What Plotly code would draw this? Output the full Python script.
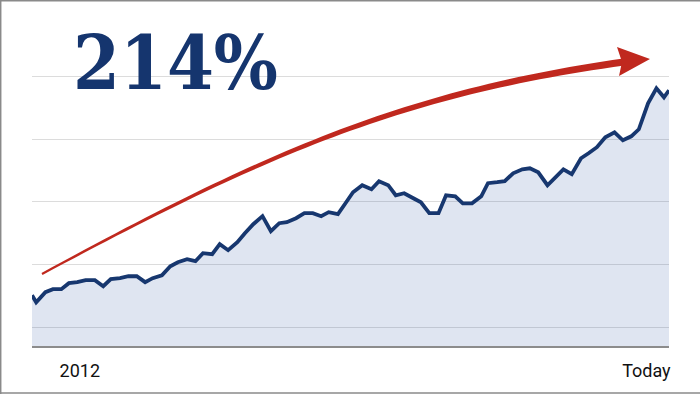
import plotly.graph_objects as go

# ---- data ----
x_months = [0, 0.5, 1.6, 2.5, 3.5, 4.4, 5.4, 6.4, 7.5, 8.5, 9.4, 10.5, 11.5, 12.5, 13.5, 14.4,
            15.5, 16.5, 17.4, 18.5, 19.5, 20.4, 21.5, 22.4, 23.4, 24.5, 25.4, 26.4, 27.5, 28.5,
            29.5, 30.4, 31.5, 32.5, 33.5, 34.5, 35.4, 36.5, 37.4, 38.3, 39.4, 40.5, 41.4, 42.5,
            43.4, 44.4, 45.5, 46.4, 47.4, 48.5, 49.4, 50.5, 51.4, 52.5, 53.6, 54.4, 55.5, 56.4,
            57.4, 58.5, 59.4, 60.4, 61.5, 62.4, 63.4, 64.4, 65.5, 66.4, 67.4, 68.4, 69.5, 70.5,
            71.5, 72.4, 73.5, 74.5, 75.4, 76.0]
values = [75.5, 69.9, 77.9, 80.3, 80.3, 85.1, 85.9, 87.5, 87.5, 82.7, 88.3, 89.1, 90.6, 90.6,
          85.9, 89.1, 91.4, 98.6, 101.8, 104.2, 102.6, 109.0, 108.2, 116.2, 111.4, 117.7, 124.9,
          132.1, 138.5, 126.5, 132.9, 133.7, 136.9, 140.9, 140.9, 138.5, 141.7, 140.1, 148.8,
          157.6, 163.2, 160.0, 166.4, 163.2, 155.2, 156.8, 152.8, 149.6, 140.9, 140.9, 155.2,
          154.4, 148.8, 148.8, 154.4, 164.8, 165.6, 166.4, 172.7, 175.9, 176.7, 173.5, 163.2,
          169.6, 175.9, 172.0, 184.7, 188.7, 193.5, 201.4, 205.4, 199.0, 202.2, 207.8, 228.5,
          240.5, 233.3, 238.9]
tick_positions = [5.7, 73.3]
tick_labels = ["2012", "Today"]
headline = "214%"

# ---- layout geometry ----
W, H = 700, 394
L, R, T, B = 32, 31, 45, 48
PW, PH = W - L - R, H - T - B


def px(x):
    return (x - L) / PW


def py(y):
    return (H - B - y) / PH


fig = go.Figure()
fig.add_trace(go.Scatter(
    x=x_months, y=values, mode="lines",
    line=dict(color="#17376f", width=3.8),
    fill="tozeroy", fillcolor="rgba(38,80,160,0.15)",
    hoverinfo="skip", showlegend=False))

# ---- curved tapered arrow (decoration) ----
P0, P1, P2, P3 = (42, 274), (262, 155), (402, 93), (624, 62)
n = 60
pts, tans = [], []
for i in range(n + 1):
    t = i / n
    a, b, c, d = (1 - t) ** 3, 3 * (1 - t) ** 2 * t, 3 * (1 - t) * t ** 2, t ** 3
    x = a * P0[0] + b * P1[0] + c * P2[0] + d * P3[0]
    y = a * P0[1] + b * P1[1] + c * P2[1] + d * P3[1]
    dx = 3 * (1 - t) ** 2 * (P1[0] - P0[0]) + 6 * (1 - t) * t * (P2[0] - P1[0]) + 3 * t ** 2 * (P3[0] - P2[0])
    dy = 3 * (1 - t) ** 2 * (P1[1] - P0[1]) + 6 * (1 - t) * t * (P2[1] - P1[1]) + 3 * t ** 2 * (P3[1] - P2[1])
    m = (dx * dx + dy * dy) ** 0.5
    pts.append((x, y))
    tans.append((dx / m, dy / m))
upper, lower = [], []
for i, ((x, y), (tx, ty)) in enumerate(zip(pts, tans)):
    w = (2.2 + 5.0 * (i / n)) / 2
    nx, ny = -ty, tx
    upper.append((x + nx * w, y + ny * w))
    lower.append((x - nx * w, y - ny * w))
poly = upper + lower[::-1]
path = "M " + " L ".join(f"{px(x):.5f},{py(y):.5f}" for x, y in poly) + " Z"
fig.add_shape(type="path", path=path, xref="paper", yref="paper",
              fillcolor="#c0281e", line=dict(width=0), layer="above")
head = [(650, 59), (617, 47), (622, 62), (619, 76)]
hpath = "M " + " L ".join(f"{px(x):.5f},{py(y):.5f}" for x, y in head) + " Z"
fig.add_shape(type="path", path=hpath, xref="paper", yref="paper",
              fillcolor="#c0281e", line=dict(width=0), layer="above")

# ---- frame lines ----
border = "#8a8a8a"
fig.add_shape(type="line", xref="paper", yref="paper", x0=px(0), x1=px(W), y0=py(0.7), y1=py(0.7),
              line=dict(color=border, width=1.5))
fig.add_shape(type="line", xref="paper", yref="paper", x0=px(0.7), x1=px(0.7), y0=py(0), y1=py(H),
              line=dict(color=border, width=1.5))
fig.add_shape(type="line", xref="paper", yref="paper", x0=px(0), x1=px(W), y0=py(393), y1=py(393),
              line=dict(color=border, width=1.5))

fig.add_annotation(text=headline, xref="paper", yref="paper", x=px(175), y=py(63),
                   xanchor="center", yanchor="middle", showarrow=False,
                   font=dict(family="DejaVu Serif Condensed, DejaVu Serif", size=75,
                             color="#15356e", weight="bold"))

fig.update_layout(
    width=W, height=H, margin=dict(l=L, r=R, t=T, b=B),
    paper_bgcolor="white", plot_bgcolor="white",
    xaxis=dict(range=[0, 76], showgrid=False, zeroline=False, showline=True,
               linecolor="#8c8c8c", linewidth=1.5, tickvals=tick_positions, ticktext=tick_labels,
               ticks="", ticklabelstandoff=8,
               tickfont=dict(family="Roboto", size=18, color="#111111"),
               fixedrange=True),
    yaxis=dict(range=[35, 275], tick0=50, dtick=50, showgrid=True, gridcolor="#dcdcdc",
               gridwidth=1, zeroline=False, showticklabels=False, showline=False,
               fixedrange=True),
)

fig.write_html("out.html")
